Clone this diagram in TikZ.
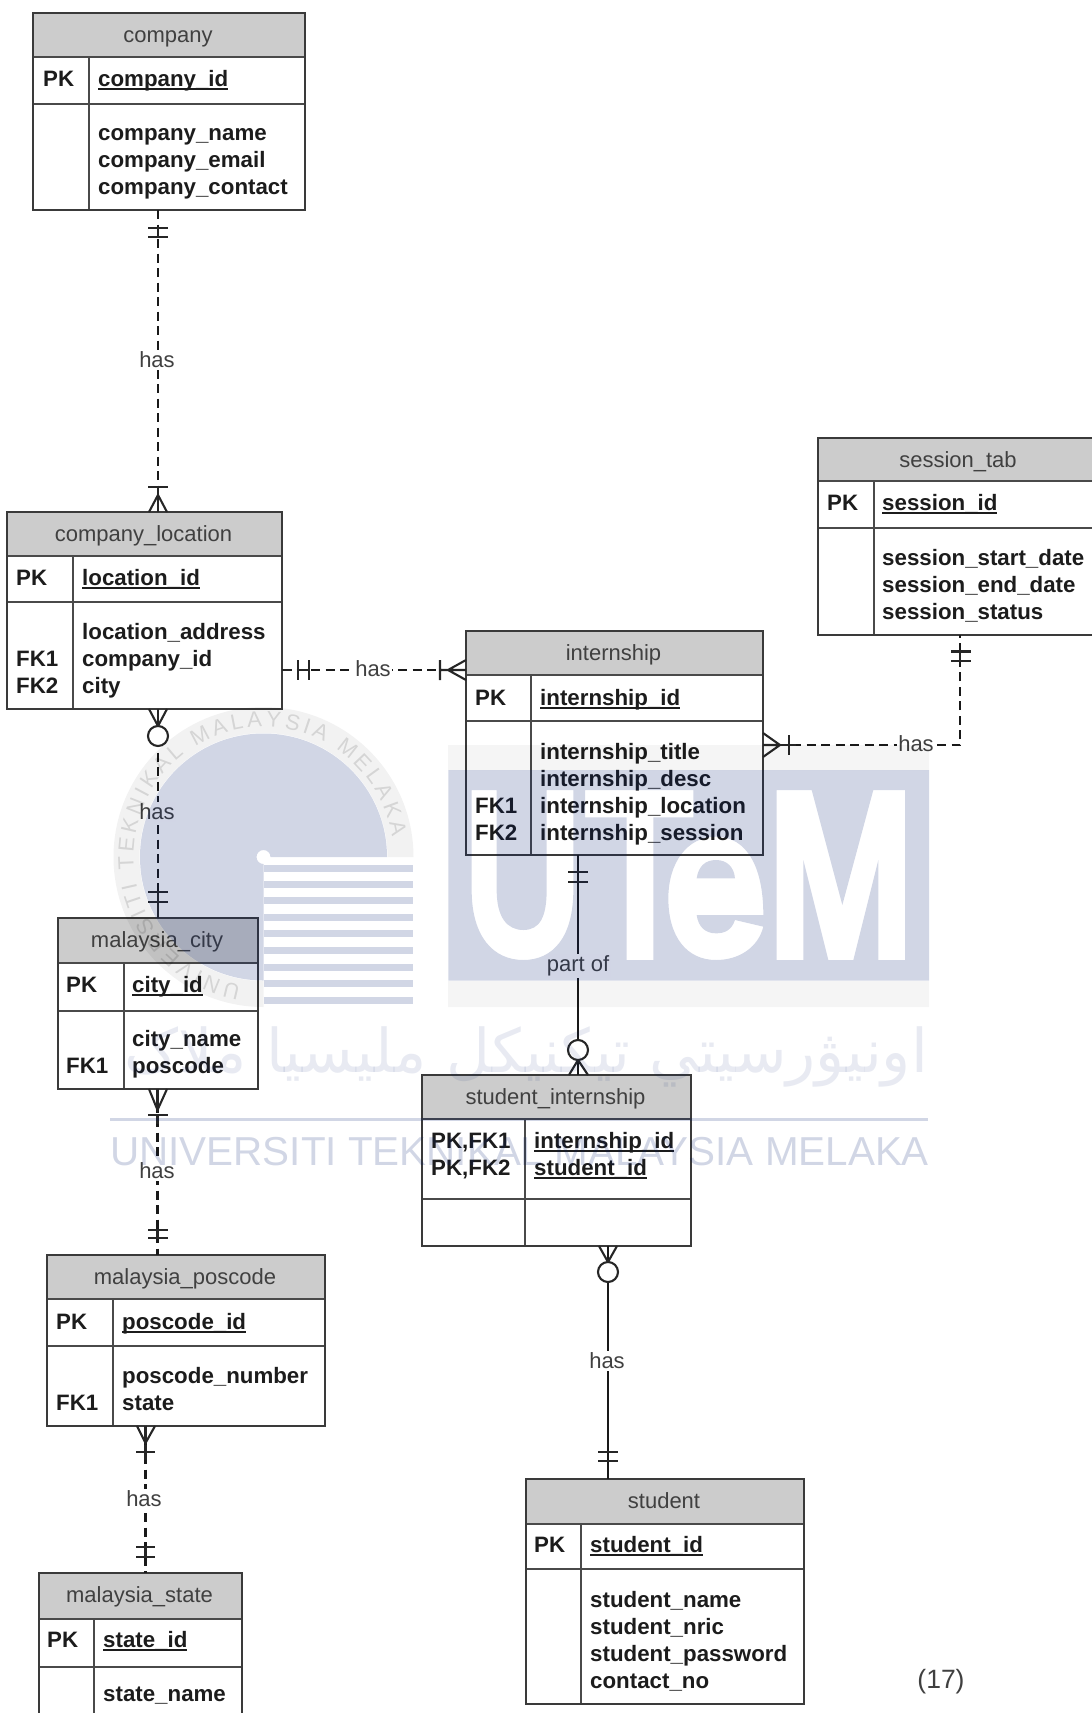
\documentclass[tikz,border=0pt]{standalone}
\usepackage{fontspec}
\usepackage{graphicx}
\usetikzlibrary{decorations.text}
\setmainfont{Liberation Sans}
\newfontfamily\arabicfont[Script=Arabic]{DejaVu Sans}
\TeXXeTstate=1
\definecolor{inkline}{HTML}{3A3A3A}
\definecolor{rowink}{HTML}{4A4A4A}
\definecolor{headgray}{HTML}{CCCCCC}
\definecolor{labelgray}{HTML}{404040}
\definecolor{boldink}{HTML}{1C1C1C}
\definecolor{wmblue}{RGB}{0,27,111}
\newcommand\ulid[1]{\sbox0{#1}\rlap{\rule[-3.6pt]{\wd0}{1.5pt}}\usebox0}
\tikzset{
  tblbox/.style={draw=inkline,line width=1.5pt,inner sep=0pt,outer sep=0pt,anchor=north west},
  tblline/.style={draw=rowink,line width=1.6pt},
  rowline/.style={draw=rowink,line width=2.2pt},
  titletext/.style={font=\fontsize{22}{27}\selectfont,text=labelgray,anchor=base,inner sep=0pt},
  attr/.style={font=\fontsize{22.3}{27}\selectfont\bfseries,text=boldink,anchor=base west,inner sep=0pt},
  rel/.style={draw=black!90,line width=2.1pt},
  reldash/.style={rel,dash pattern=on 9pt off 5.5pt},
  rellabel/.style={font=\fontsize{22}{27}\selectfont,text=labelgray,fill=white,inner sep=1.5pt},
  marker/.style={draw=black!85,line width=2.1pt},
  wm/.style={fill=wmblue,opacity=.18,draw=none}
}
\newcommand\ertab[9]{%
  \pgfmathsetmacro\tcx{(#2+#4)/2-1}%
  \pgfmathsetmacro\tby{#3+29}%
  \fill[headgray] (#2,-#3) rectangle (#4,-#6);
  \draw[tblline] (#8,-#6) -- (#8,-#5);
  \draw[rowline] (#2,-#6) -- (#4,-#6);
  \draw[rowline] (#2,-#7) -- (#4,-#7);
  \node[tblbox,minimum width={(#4-#2)*1pt},minimum height={(#5-#3)*1pt}] (#1) at (#2,-#3) {};
  \node[titletext] (#1-title) at (\tcx,-\tby) {#9};
}
\newcommand\rowtxt[4]{\node[attr] (#1) at (#2,-#3) {#4};}
\newcommand\hbars[4]{% x1 x2 y1 y2 : two horizontal bars
  \draw[marker] (#1,-#3) -- (#2,-#3) (#1,-#4) -- (#2,-#4);
}
\newcommand\vstem[3]{\draw[marker] (#1,-#2) -- (#1,-#3);}
\begin{document}
\begin{tikzpicture}[x=1pt,y=1pt]
\useasboundingbox (0,0) rectangle (1092,-1713);
\clip (0,0) rectangle (1092,-1713);

% ---------- tables
\ertab{company}{33}{13}{305}{210}{57}{104}{89}{company}
\rowtxt{company-pk}{43}{86}{PK}
\rowtxt{company-id}{98}{86}{\ulid{company\_id}}
\rowtxt{company-a1}{98}{140.5}{company\_name}
\rowtxt{company-a2}{98}{167.5}{company\_email}
\rowtxt{company-a3}{98}{194.5}{company\_contact}

\ertab{cloc}{7}{512}{282}{709}{556}{602}{73}{company\_location}
\rowtxt{cloc-pk}{16}{585}{PK}
\rowtxt{cloc-id}{82}{585}{\ulid{location\_id}}
\rowtxt{cloc-a1}{82}{639}{location\_address}
\rowtxt{cloc-a2}{82}{666}{company\_id}
\rowtxt{cloc-a3}{82}{693}{city}
\rowtxt{cloc-f1}{16}{666}{FK1}
\rowtxt{cloc-f2}{16}{693}{FK2}

\ertab{session}{818}{438}{1100}{635}{481}{528}{874}{session\_tab}
\rowtxt{session-pk}{827}{510}{PK}
\rowtxt{session-id}{882}{510}{\ulid{session\_id}}
\rowtxt{session-a1}{882}{565}{session\_start\_date}
\rowtxt{session-a2}{882}{592}{session\_end\_date}
\rowtxt{session-a3}{882}{619}{session\_status}

\ertab{intern}{466}{631}{763}{855}{675}{721}{531}{internship}
\rowtxt{intern-pk}{475}{705}{PK}
\rowtxt{intern-id}{540}{705}{\ulid{internship\_id}}
\rowtxt{intern-a1}{540}{759}{internship\_title}
\rowtxt{intern-a2}{540}{786}{internship\_desc}
\rowtxt{intern-a3}{540}{813}{internship\_location}
\rowtxt{intern-a4}{540}{840}{internship\_session}
\rowtxt{intern-f1}{475}{813}{FK1}
\rowtxt{intern-f2}{475}{840}{FK2}

\ertab{city}{58}{918}{258}{1089}{963}{1011}{124}{malaysia\_city}
\rowtxt{city-pk}{66}{992}{PK}
\rowtxt{city-id}{132}{992}{\ulid{city\_id}}
\rowtxt{city-a1}{132}{1046}{city\_name}
\rowtxt{city-a2}{132}{1073}{poscode}
\rowtxt{city-f1}{66}{1073}{FK1}

\ertab{poscode}{47}{1255}{325}{1426}{1299}{1346}{113}{malaysia\_poscode}
\rowtxt{poscode-pk}{56}{1329}{PK}
\rowtxt{poscode-id}{122}{1329}{\ulid{poscode\_id}}
\rowtxt{poscode-a1}{122}{1383}{poscode\_number}
\rowtxt{poscode-a2}{122}{1410}{state}
\rowtxt{poscode-f1}{56}{1410}{FK1}

\ertab{mstate}{39}{1573}{242}{1730}{1619}{1667}{94}{malaysia\_state}
\rowtxt{mstate-pk}{47}{1647}{PK}
\rowtxt{mstate-id}{103}{1647}{\ulid{state\_id}}
\rowtxt{mstate-a1}{103}{1701}{state\_name}

\ertab{sint}{422}{1075}{691}{1246}{1119}{1199}{525}{student\_internship}
\rowtxt{sint-p1}{431}{1148}{PK,FK1}
\rowtxt{sint-p2}{431}{1175}{PK,FK2}
\rowtxt{sint-a1}{534}{1148}{\ulid{internship\_id}}
\rowtxt{sint-a2}{534}{1175}{\ulid{student\_id}}

\ertab{student}{526}{1479}{804}{1704}{1524}{1569}{581}{student}
\rowtxt{student-pk}{534}{1552}{PK}
\rowtxt{student-id}{590}{1552}{\ulid{student\_id}}
\rowtxt{student-a1}{590}{1607}{student\_name}
\rowtxt{student-a2}{590}{1634}{student\_nric}
\rowtxt{student-a3}{590}{1661}{student\_password}
\rowtxt{student-a4}{590}{1688}{contact\_no}

\node[font=\fontsize{26.5}{30}\selectfont,text=labelgray,anchor=base,inner sep=0pt] (pageno) at (941,-1688) {(17)};

% ---------- connector guides
\coordinate (xa) at (158,0);
\coordinate (yb) at (0,-670);
\coordinate (xc) at (158,0);
\coordinate (xd) at (157.5,0);
\coordinate (xe) at (145.5,0);
\coordinate (yf) at (0,-745);
\coordinate (xf) at (960,0);
\coordinate (xg) at (578,0);
\coordinate (xh) at (608,0);

% company -- company_location
\draw[reldash] (xa |- company.south) -- (xa |- cloc.north);
\hbars{148}{168}{228}{237}\vstem{158}{228}{237}
\hbars{148}{168}{487}{487}\vstem{158}{487}{512}
\draw[marker] (149,-512) -- (158,-495) -- (167,-512);
\node[rellabel] (has1) at (157,-360) {has};

% company_location -- internship
\draw[reldash] (cloc.east |- yb) -- (intern.west |- yb);
\draw[marker] (298,-660) -- (298,-680) (309,-660) -- (309,-680) (298,-670) -- (309,-670) (282,-670) -- (292,-670);
\draw[marker] (440,-660) -- (440,-680) (440,-670) -- (466,-670) (466,-660) -- (448,-670) -- (466,-680);
\node[rellabel] (has2) at (373,-669) {has};

% company_location -- malaysia_city
\draw[reldash] (xc |- cloc.south) -- (xc |- city.north);
\draw[marker] (149,-709) -- (158,-726) -- (167,-709);
\vstem{158}{709}{726}
\draw[marker,fill=white] (158,-736) circle (10);
\hbars{148}{168}{892}{902}\vstem{158}{892}{918}
\node[rellabel] (has3) at (157,-812) {has};

% malaysia_city -- malaysia_poscode
\draw[reldash] (xd |- city.south) -- (xd |- poscode.north);
\draw[marker] (149,-1089) -- (157.5,-1110) -- (167,-1089);
\vstem{157.5}{1089}{1110}
\hbars{148}{168}{1115}{1115}\vstem{157.5}{1115}{1124}
\hbars{148}{168}{1230}{1238}\vstem{157.5}{1230}{1238}
\node[rellabel] (has4) at (157,-1171) {has};

% malaysia_poscode -- malaysia_state
\draw[reldash] (xe |- poscode.south) -- (xe |- mstate.north);
\draw[marker] (137,-1426) -- (145.5,-1443) -- (155,-1426);
\vstem{145.5}{1426}{1443}
\hbars{136}{155}{1452}{1452}\vstem{145.5}{1445}{1460}
\hbars{136}{155}{1547}{1557}\vstem{145.5}{1547}{1557}
\node[rellabel] (has5) at (144,-1499) {has};

% internship -- session_tab
\draw[reldash] (intern.east |- yf) -- (xf |- yf) -- (xf |- session.south);
\draw[marker] (763,-733) -- (780,-745) -- (763,-757) (763,-745) -- (780,-745);
\draw[marker] (789,-735) -- (789,-755) (780,-745) -- (796,-745);
\hbars{951}{971}{651.5}{661}\vstem{960}{651.5}{661}
\node[rellabel] (has6) at (916,-744) {has};

% internship -- student_internship
\draw[rel] (xg |- intern.south) -- (xg |- sint.north);
\hbars{568}{588}{872}{882}
\draw[marker] (569,-1075) -- (578,-1060) -- (588,-1075);
\draw[marker,fill=white] (578,-1050) circle (10);
\node[rellabel] (partof) at (578,-966) {part of};

% student_internship -- student
\draw[rel] (xh |- sint.south) -- (xh |- student.north);
\draw[marker] (599,-1246) -- (608,-1262) -- (617,-1246);
\draw[marker,fill=white] (608,-1272) circle (10);
\hbars{598}{618}{1452}{1461}
\node[rellabel] (has7) at (607,-1361) {has};

% ---------- watermark, laid over the diagram
\fill[black,opacity=.05] (413.5,-857) arc [start angle=0,end angle=270,radius=150]
  -- (263.5,-981) arc [start angle=270,end angle=0,radius=124] -- cycle;
\begin{scope}[opacity=.12]
\path[decorate,decoration={text along path,text align={fit to path},
  text={|\fontsize{22}{22}\selectfont|UNIVERSITI TEKNIKAL MALAYSIA MELAKA}}]
  (263.5,-857) ++(260:130) arc [start angle=260,end angle=9,radius=130];
\end{scope}
\fill[wm] (270.5,-857) -- (387,-857) arc [start angle=0,end angle=270,radius=123.5]
  -- (263.5,-864) arc [start angle=270,end angle=0,radius=7] -- cycle;
\foreach \sy in {865,881,897,914,930,947,964,980,997}
  \fill[wm] (264,-\sy) rectangle (413,-\sy-7);

% light bands and the UTeM letters (holes in the blue block)
\fill[black,opacity=.04] (448,-745) rectangle (929,-770) (448,-981) rectangle (929,-1007);
\begin{scope}[shift={(430,-730)},x=1pt/3,y=-1pt/3]
\fill[wm,even odd rule] (55,120) rectangle (1497,752)
  % U
  (125,180) -- (200,180) -- (200,480) .. controls (200,560) and (230,600) .. (280,600)
    .. controls (330,600) and (350,560) .. (350,480) -- (350,180) -- (430,180) -- (430,480)
    .. controls (430,620) and (370,690) .. (280,690) .. controls (190,690) and (125,620) .. (125,480) -- cycle
  % T
  (465,180) -- (790,180) -- (790,262) -- (670,262) -- (670,690) -- (590,690) -- (590,262) -- (465,262) -- cycle
  % e
  (1000,555) .. controls (1000,410) and (950,320) .. (858,320) .. controls (770,320) and (715,400) .. (715,505)
    .. controls (715,620) and (770,690) .. (858,690) .. controls (930,690) and (985,650) .. (1000,590)
    -- (915,570) .. controls (905,600) and (885,610) .. (858,610) .. controls (825,610) and (805,590) .. (800,555) -- cycle
  (800,445) .. controls (805,410) and (825,390) .. (858,390) .. controls (890,390) and (912,410) .. (915,445) -- cycle
  % M
  (1040,180) -- (1145,180) -- (1237,525) -- (1330,180) -- (1425,180) -- (1425,690) -- (1345,690) -- (1345,390)
    -- (1270,690) -- (1195,690) -- (1120,390) -- (1120,690) -- (1040,690) -- cycle;
\end{scope}

% Jawi line, rule and university name
\node[anchor=base east,inner sep=0pt,text=wmblue,opacity=.09] (wmjawi) at (928,-1072)
  {\resizebox{803pt}{!}{\fontsize{60}{60}\arabicfont\beginR اونيۋرسيتي تيكنيكل مليسيا ملاک\endR}};
\fill[wm] (110,-1117.5) rectangle (928,-1120.5);
\node[anchor=base west,inner sep=0pt,text=wmblue,opacity=.18,font=\fontsize{40.4}{41}\selectfont] (wmname) at (110,-1165)
  {UNIVERSITI TEKNIKAL MALAYSIA MELAKA};
\end{tikzpicture}
\end{document}
